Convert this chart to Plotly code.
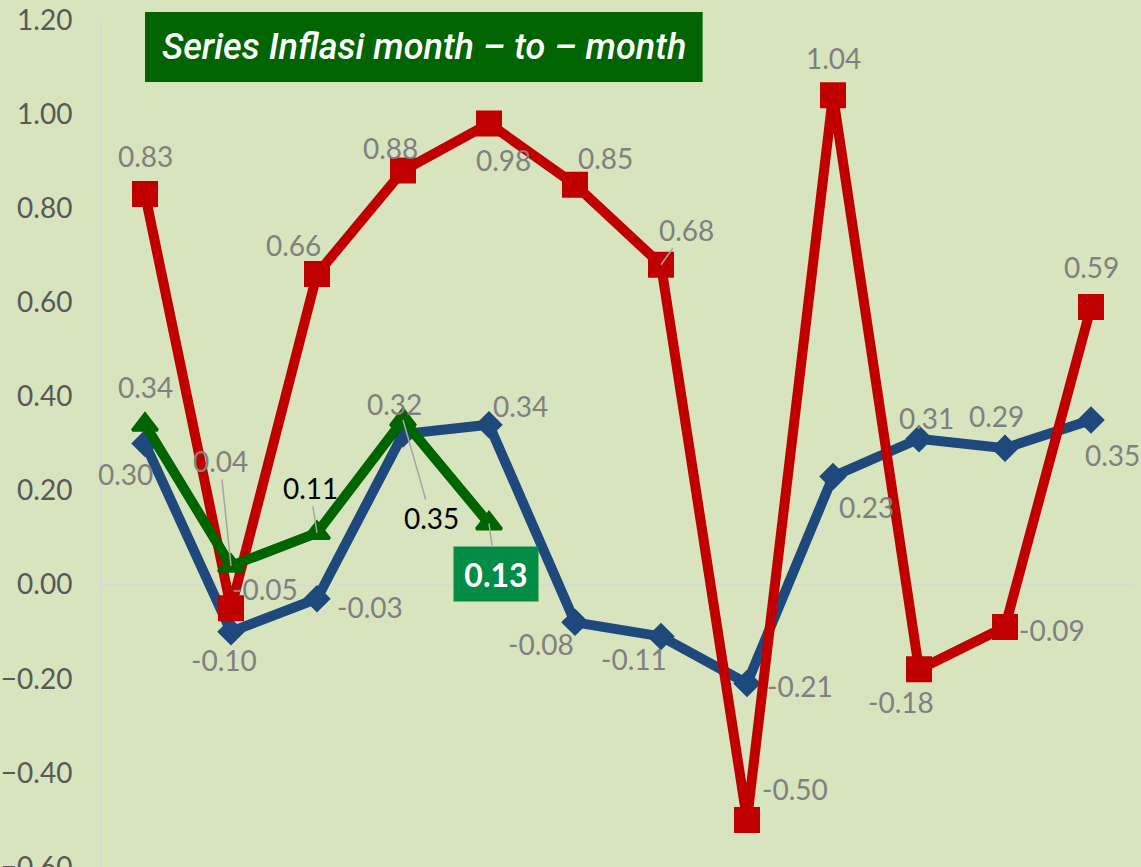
import plotly.graph_objects as go

months = ["Jan", "Feb", "Mar", "Apr", "Mei", "Jun", "Jul", "Agu", "Sep", "Okt", "Nov", "Des"]
red_vals = [0.83, -0.05, 0.66, 0.88, 0.98, 0.85, 0.68, -0.50, 1.04, -0.18, -0.09, 0.59]
blue_vals = [0.30, -0.10, -0.03, 0.32, 0.34, -0.08, -0.11, -0.21, 0.23, 0.31, 0.29, 0.35]
green_vals = [0.34, 0.04, 0.11, 0.35, 0.13]
title_text = "Series Inflasi month \u2013 to \u2013 month"
y_ticks = [-0.6, -0.4, -0.2, 0.0, 0.2, 0.4, 0.6, 0.8, 1.0, 1.2]

BG = "#d8e4bd"
RED = "#c00000"
BLUE = "#1f497d"
GREEN = "#006400"
LABEL_GRAY = "#808080"
FONT = "Lato, 'Open Sans', sans-serif"
LBL_SIZE = 28

fig = go.Figure()

fig.add_trace(go.Scatter(
    x=months, y=blue_vals, mode="lines+markers", name="blue",
    line=dict(color=BLUE, width=10),
    marker=dict(symbol="diamond", size=19, color=BLUE, line=dict(color=BLUE, width=2)),
    hoverinfo="skip",
))
fig.add_trace(go.Scatter(
    x=months, y=red_vals, mode="lines+markers", name="red",
    line=dict(color=RED, width=10),
    marker=dict(symbol="square", size=24, color=RED, line=dict(color=RED, width=2)),
    hoverinfo="skip",
))
fig.add_trace(go.Scatter(
    x=months[:len(green_vals)], y=green_vals, mode="lines+markers", name="green",
    line=dict(color=GREEN, width=10),
    marker=dict(symbol="triangle-up", size=22, color=GREEN, line=dict(color=GREEN, width=3)),
    hoverinfo="skip",
))

# label offsets (style only): (dx, dy) in pixels relative to the point
red_off = [(0, 38), (34, 19), (-24, 29), (-13, 23), (14, -36), (30, 27), None,
           (48, 31), (0, 37), (-18, -33), (47, -3), (0, 40)]
red_arrow = {6: (25, -35)}
blue_off = [(-20, -30), (-7, -28), (53, -8), (-9, 30), (31, 19), (-34, -22),
            (-27, -23), (53, -3), (33, -31), (7, 21), (-9, 32), (21, -35)]
green_off = [(0, 38), None, None, None, None]
green_arrow = {1: (-11, -105), 2: (-7, -45), 3: (28, 98)}
green_black = {2, 3}

ann = []

def lbl(x, y, v, off, color=LABEL_GRAY):
    ann.append(dict(x=x, y=y, xref="x", yref="y", text=f"{v:.2f}", showarrow=False,
                    xshift=off[0], yshift=off[1],
                    font=dict(family=FONT, size=LBL_SIZE, color=color)))

def arrow_lbl(x, y, v, a, color=LABEL_GRAY):
    ann.append(dict(x=x, y=y, xref="x", yref="y", text=f"{v:.2f}", showarrow=True,
                    ax=a[0], ay=a[1], arrowhead=0, arrowwidth=1.5, arrowcolor="#a6a6a6",
                    standoff=0, font=dict(family=FONT, size=LBL_SIZE, color=color)))

for i, v in enumerate(blue_vals):
    lbl(months[i], v, v, blue_off[i])
for i, v in enumerate(red_vals):
    if i in red_arrow:
        arrow_lbl(months[i], v, v, red_arrow[i])
    else:
        lbl(months[i], v, v, red_off[i])
for i, v in enumerate(green_vals[:-1]):
    col = "#000000" if i in green_black else LABEL_GRAY
    if i in green_arrow:
        arrow_lbl(months[i], v, v, green_arrow[i], col)
    else:
        lbl(months[i], v, v, green_off[i], col)

# highlighted last green value
last_i = len(green_vals) - 1
ann.append(dict(x=months[last_i], y=green_vals[last_i], xref="x", yref="y",
                text=f"<b>{green_vals[last_i]:.2f}</b>", showarrow=True,
                ax=7, ay=51, arrowhead=0, arrowwidth=1.5, arrowcolor="#a6a6a6", standoff=0,
                bgcolor="#038c45", width=84, height=54, borderpad=0,
                font=dict(family=FONT, size=32, color="white")))

# title box
ann.append(dict(x=0.312, y=0.968, xref="paper", yref="paper", text=f"<i>{title_text}</i>",
                showarrow=False, xanchor="center", yanchor="middle",
                font=dict(family="Roboto, sans-serif", size=36, color="white", weight=500)))

fig.update_layout(
    width=1141, height=867,
    margin=dict(l=102, r=7, t=20, b=0, autoexpand=False),
    paper_bgcolor=BG, plot_bgcolor=BG,
    showlegend=False,
    annotations=ann,
    shapes=[dict(type="rect", xref="paper", yref="paper",
                 x0=0.0417, x1=0.582, y0=0.9268, y1=1.0094,
                 fillcolor="#006400", line=dict(width=0), layer="below")],
    xaxis=dict(type="category", range=[-0.5, 11.5], showticklabels=False, automargin=False,
               showgrid=False, zeroline=False, showline=False, ticks=""),
    yaxis=dict(range=[-0.6, 1.2], tickvals=y_ticks, tickformat=".2f", automargin=False,
               showgrid=False, zeroline=True, zerolinecolor="#d9d9d9", zerolinewidth=2,
               showline=True, linecolor="#d9d9d9", linewidth=2, ticks="",
               ticklabelstandoff=22, ticklabeloverflow="allow",
               tickfont=dict(family=FONT, size=LBL_SIZE, color="#595959")),
)

fig.write_html(
    "out.html",
    config={"displayModeBar": False},
    post_script="document.body.style.margin='0';document.body.style.overflow='hidden';"
                "document.body.style.background='" + BG + "';",
)
